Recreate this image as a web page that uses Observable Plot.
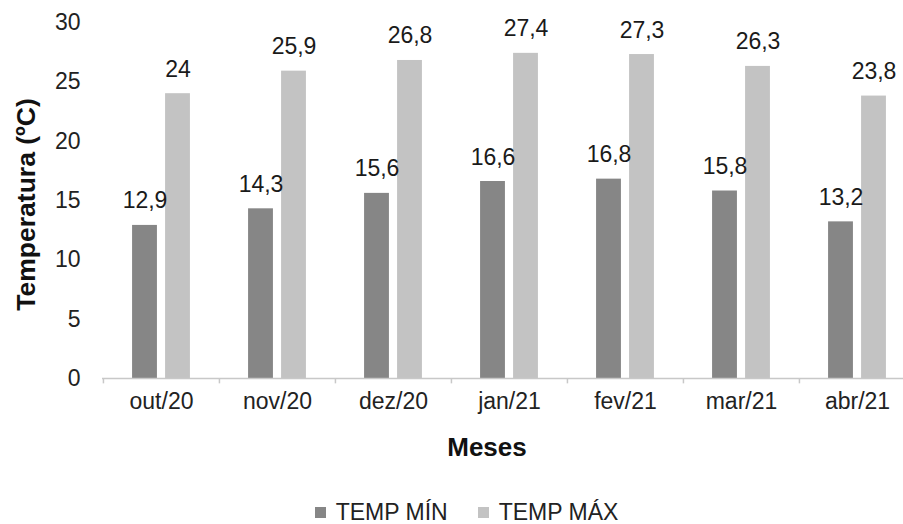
<!DOCTYPE html>
<html>
<head>
<meta charset="utf-8">
<script src="https://cdn.jsdelivr.net/npm/d3@7"></script>
<script src="https://cdn.jsdelivr.net/npm/@observablehq/plot@0.6"></script>
<style>
  html, body { margin: 0; padding: 0; background: #fff; }
  #chart { width: 903px; font-family: "Liberation Sans", Arial, sans-serif; }
  .legend { height: 44px; display: flex; justify-content: center; align-items: center;
            padding-left: 30px; box-sizing: border-box; font-size: 23px; color: #222; }
  .legend .item { display: flex; align-items: center; margin: 0 15px; }
  .legend .sw { width: 11px; height: 11px; margin-right: 10px; }
</style>
</head>
<body>
<div id="chart"></div>
<script>
const months = ["out/20", "nov/20", "dez/20", "jan/21", "fev/21", "mar/21", "abr/21"];
const tempMin = [12.9, 14.3, 15.6, 16.6, 16.8, 15.8, 13.2];
const tempMax = [24, 25.9, 26.8, 27.4, 27.3, 26.3, 23.8];
const seriesNames = ["TEMP MÍN", "TEMP MÁX"];
const seriesColors = ["#868686", "#c3c3c3"];
const yTicks = [0, 5, 10, 15, 20, 25, 30];

const minData = months.map((m, i) => ({month: m, serie: seriesNames[0], value: tempMin[i]}));
const maxData = months.map((m, i) => ({month: m, serie: seriesNames[1], value: tempMax[i]}));
const fmt = v => String(v).replace(".", ",");

const bandW = (915 - 102) / months.length;
const barW = 25;
const gap = 8;
const offBar = gap / 2 + barW / 2;
const insNear = bandW / 2 - gap / 2 - barW;
const insFar = bandW / 2 + gap / 2;

const chart = Plot.plot({
  width: 903,
  height: 490,
  marginTop: 22,
  marginBottom: 112,
  marginLeft: 102,
  marginRight: 0,
  style: {fontFamily: '"Liberation Sans", Arial, sans-serif', fontSize: "23px", color: "#222", background: "#fff"},
  x: {domain: months, range: [102, 915], padding: 0},
  y: {domain: [0, 30]},
  marks: [
    Plot.barY(minData, {x: "month", y: "value", fill: seriesColors[0], insetLeft: insNear, insetRight: insFar}),
    Plot.barY(maxData, {x: "month", y: "value", fill: seriesColors[1], insetLeft: insFar, insetRight: insNear}),
    Plot.ruleY([0], {stroke: "#c8c8c8", strokeWidth: 1.5}),
    Plot.ruleX(months, {x: d => d, dx: -bandW / 2, y1: 0, y2: -0.45, stroke: "#c8c8c8", strokeWidth: 1.5}),
    Plot.text(minData, {x: "month", y: "value", text: d => fmt(d.value), dx: -offBar, dy: -17, lineAnchor: "bottom", fill: "#1a1a1a", fontSize: 23}),
    Plot.text(maxData, {x: "month", y: "value", text: d => fmt(d.value), dx: offBar, dy: -17, lineAnchor: "bottom", fill: "#1a1a1a", fontSize: 23}),
    Plot.axisY({ticks: yTicks, tickSize: 0, tickPadding: 22, label: null, fontSize: 23}),
    Plot.axisX({tickSize: 0, tickPadding: 14, label: null, fontSize: 23}),
    Plot.text(["Meses"], {frameAnchor: "bottom", dx: -16, dy: 77, text: d => d, fontWeight: "bold", fontSize: 26, fill: "#111"}),
    Plot.text(["Temperatura (ºC)"], {frameAnchor: "left", textAnchor: "middle", dx: -76, dy: 4, rotate: -90, text: d => d, fontWeight: "bold", fontSize: 26.5, fill: "#111"})
  ]
});

const root = document.getElementById("chart");
root.appendChild(chart);

const legend = document.createElement("div");
legend.className = "legend";
seriesNames.forEach((name, i) => {
  const item = document.createElement("div");
  item.className = "item";
  const sw = document.createElement("span");
  sw.className = "sw";
  sw.style.background = seriesColors[i];
  const label = document.createElement("span");
  label.textContent = name;
  item.appendChild(sw);
  item.appendChild(label);
  legend.appendChild(item);
});
root.appendChild(legend);
</script>
</body>
</html>
